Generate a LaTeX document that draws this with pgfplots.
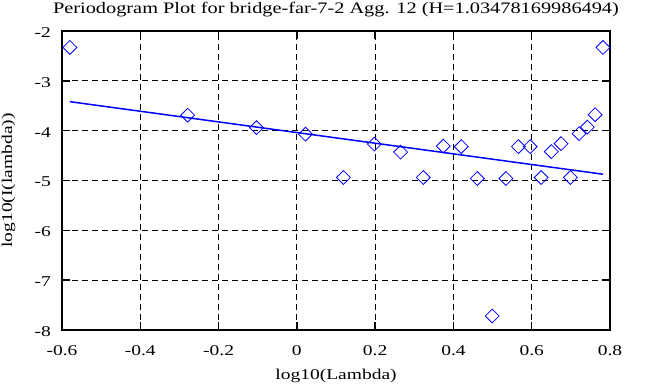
\documentclass[border=0pt]{standalone}
\usepackage{fontspec}
\setmainfont{Liberation Serif}[FakeStretch=1.3]
\newfontfamily\titlefont{Liberation Serif}[FakeStretch=1.27]
\usepackage{pgfplots}
\pgfplotsset{compat=1.18}
\begin{document}
\begin{tikzpicture}[x=1bp,y=1bp]
\path[use as bounding box] (0,0) rectangle (663,387);
\begin{axis}[
  at={(62bp,57bp)}, anchor=south west,
  scale only axis, width=548bp, height=299bp,
  xmin=-0.6, xmax=0.8, ymin=-8, ymax=-2,
  xtick={-0.6,-0.4,-0.2,0,0.2,0.4,0.6,0.8},
  xticklabels={-0.6,-0.4,-0.2,0,0.2,0.4,0.6,0.8},
  ytick={-8,-7,-6,-5,-4,-3,-2},
  yticklabels={-8,-7,-6,-5,-4,-3,-2},
  tick align=inside, major tick length=8bp,
  xtick pos=both, ytick pos=both,
  tick style={black, line width=1.5bp},
  axis line style={black, line width=2bp},
  grid=major,
  major grid style={black, line width=0.8bp, dash pattern=on 6bp off 4bp},
  font=\fontsize{15bp}{18bp}\selectfont,
  xticklabel style={anchor=base, yshift=-25bp, inner sep=0pt},
  yticklabel style={anchor=east, inner sep=0pt, xshift=-11bp, yshift=-1.5bp},
  every axis title shift=0pt,
  title={Periodogram Plot for bridge-far-7-2 Agg. 12 (H=1.03478169986494)},
  title style={at={(axis description cs:0.5,1.0585)}, anchor=base, inner sep=0pt, font=\titlefont\fontsize{16bp}{19bp}\selectfont},
  xlabel={log10(Lambda)},
  xlabel style={at={(axis description cs:0.5,-0.1639)}, anchor=base, inner sep=0pt, font=\fontsize{15bp}{18bp}\selectfont},
  ylabel={log10(I(lambda))},
  ylabel style={at={(axis description cs:-0.0912,0.5)}, anchor=base, inner sep=0pt, font=\fontsize{15bp}{18bp}\selectfont},
  clip=false,
]
\addplot[only marks, blue, mark=square, mark size=4.9bp, mark options={rotate=45, line width=0.8bp, fill=none}] table {
x y
-0.580 -2.33
-0.279 -3.69
-0.103 -3.94
0.022 -4.07
0.119 -4.94
0.198 -4.27
0.265 -4.43
0.323 -4.94
0.374 -4.31
0.420 -4.32
0.461 -4.96
0.499 -7.72
0.534 -4.96
0.566 -4.32
0.596 -4.32
0.624 -4.94
0.650 -4.42
0.675 -4.26
0.699 -4.94
0.721 -4.06
0.742 -3.93
0.762 -3.68
0.782 -2.33
};
\addplot[blue, line width=1.5bp] coordinates {(-0.580,-3.418) (0.782,-4.874)};
\end{axis}
\end{tikzpicture}
\end{document}
